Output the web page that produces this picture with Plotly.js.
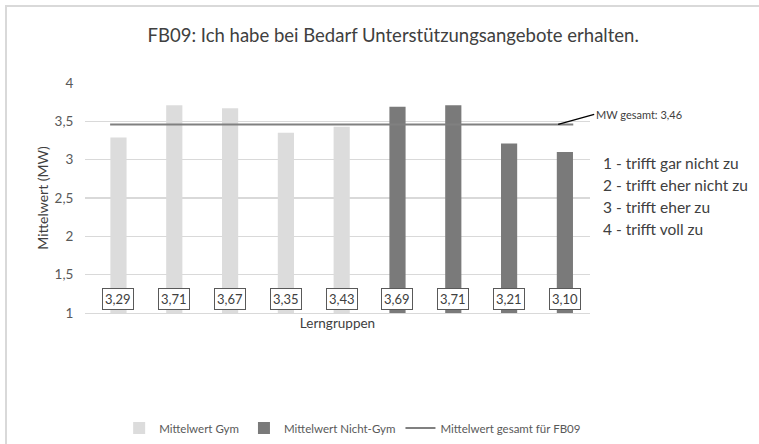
<!DOCTYPE html>
<html>
<head>
<meta charset="utf-8">
<script src="https://cdn.plot.ly/plotly-3.0.1.min.js"></script>
<style>
html,body{margin:0;padding:0;background:#fff;}
#frame{position:absolute;left:5px;top:5px;width:800px;height:500px;border-left:2px solid #d9d9d9;border-top:2px solid #d9d9d9;box-sizing:border-box;pointer-events:none;}
#chart{width:759px;height:444px;}
</style>
</head>
<body>
<div id="chart"></div>
<div id="frame"></div>
<script>
const groups = ["G1","G2","G3","G4","G5","N1","N2","N3","N4"];
const gymValues = [3.29, 3.71, 3.67, 3.35, 3.43, null, null, null, null];
const nichtGymValues = [null, null, null, null, null, 3.69, 3.71, 3.21, 3.10];
const meanTotal = 3.46;
const scaleLabels = ["1 - trifft gar nicht zu","2 - trifft eher nicht zu","3 - trifft eher zu","4 - trifft voll zu"];

const idx = groups.map((g,i)=>i);
const allValues = idx.map(i => gymValues[i] !== null ? gymValues[i] : nichtGymValues[i]);
const fmt = v => v.toFixed(2).replace('.', ',');
const halfBar = 0.15;
const font = "Lato, 'Open Sans', sans-serif";

const traces = [
  {type:'bar', x: idx, y: gymValues, name:'Mittelwert Gym', marker:{color:'#dcdcdc'}, width:0.29, hoverinfo:'skip'},
  {type:'bar', x: idx, y: nichtGymValues, name:'Mittelwert Nicht-Gym', marker:{color:'#7a7a7a'}, width:0.29, hoverinfo:'skip'},
  {type:'scatter', mode:'lines', x:[idx[0]-halfBar, idx[idx.length-1]+halfBar], y:[meanTotal, meanTotal],
   name:'Mittelwert gesamt für FB09', line:{color:'#808080', width:2}, hoverinfo:'skip'}
];

const annotations = idx.map(i => ({
  x: i, y: 1.18, xref:'x', yref:'y', text: fmt(allValues[i]), showarrow:false,
  font:{family:font, size:13, color:'#404040'}, bgcolor:'#ffffff', bordercolor:'#595959',
  borderwidth:1, borderpad:2
}));
annotations.push({
  x: idx[idx.length-1]-0.12, y: meanTotal, xref:'x', yref:'y', text:'MW gesamt: ' + fmt(meanTotal),
  showarrow:true, arrowhead:0, arrowwidth:1.5, arrowcolor:'#000', ax:36, ay:-10, xanchor:'left',
  font:{family:font, size:11, color:'#404040'}
});
scaleLabels.forEach((t,k) => annotations.push({
  x:1.022, y:0.652 - k*0.096, xref:'paper', yref:'paper', text:t, showarrow:false,
  xanchor:'left', yanchor:'middle', font:{family:font, size:15.5, color:'#404040'}
}));

const layout = {
  width:759, height:444,
  margin:{l:85, r:169, t:83, b:131, autoexpand:false},
  paper_bgcolor:'#fff', plot_bgcolor:'#fff',
  separators:',.',
  barmode:'overlay',
  showlegend:true,
  title:{text:'FB09: Ich habe bei Bedarf Unterstützungsangebote erhalten.', x:0.518, xanchor:'center', y:0.92, yanchor:'middle',
         font:{family:font, size:18.5, color:'#404040'}},
  xaxis:{range:[-0.6, 8.45], showticklabels:false, showgrid:false, zeroline:false, showline:true, automargin:false,
         linecolor:'#d9d9d9', linewidth:1, fixedrange:true,
         title:{text:'Lerngruppen', standoff:5, font:{family:font, size:13.5, color:'#404040'}}},
  yaxis:{range:[1,4], dtick:0.5, tick0:1, showgrid:true, gridcolor:'#d9d9d9', gridwidth:1.5, zeroline:false, automargin:false,
         ticks:'outside', ticklen:8, tickcolor:'rgba(0,0,0,0)',
         tickfont:{family:font, size:13.5, color:'#595959'},
         title:{text:'Mittelwert (MW)', standoff:2, font:{family:font, size:14, color:'#404040'}}},
  legend:{orientation:'h', x:0.53, xanchor:'center', y:-0.5, yanchor:'middle',
          font:{family:font, size:11.5, color:'#595959'}, itemwidth:30, traceorder:'normal'},
  annotations: annotations
};

Plotly.newPlot('chart', traces, layout, {displayModeBar:false, staticPlot:true});
</script>
</body>
</html>
